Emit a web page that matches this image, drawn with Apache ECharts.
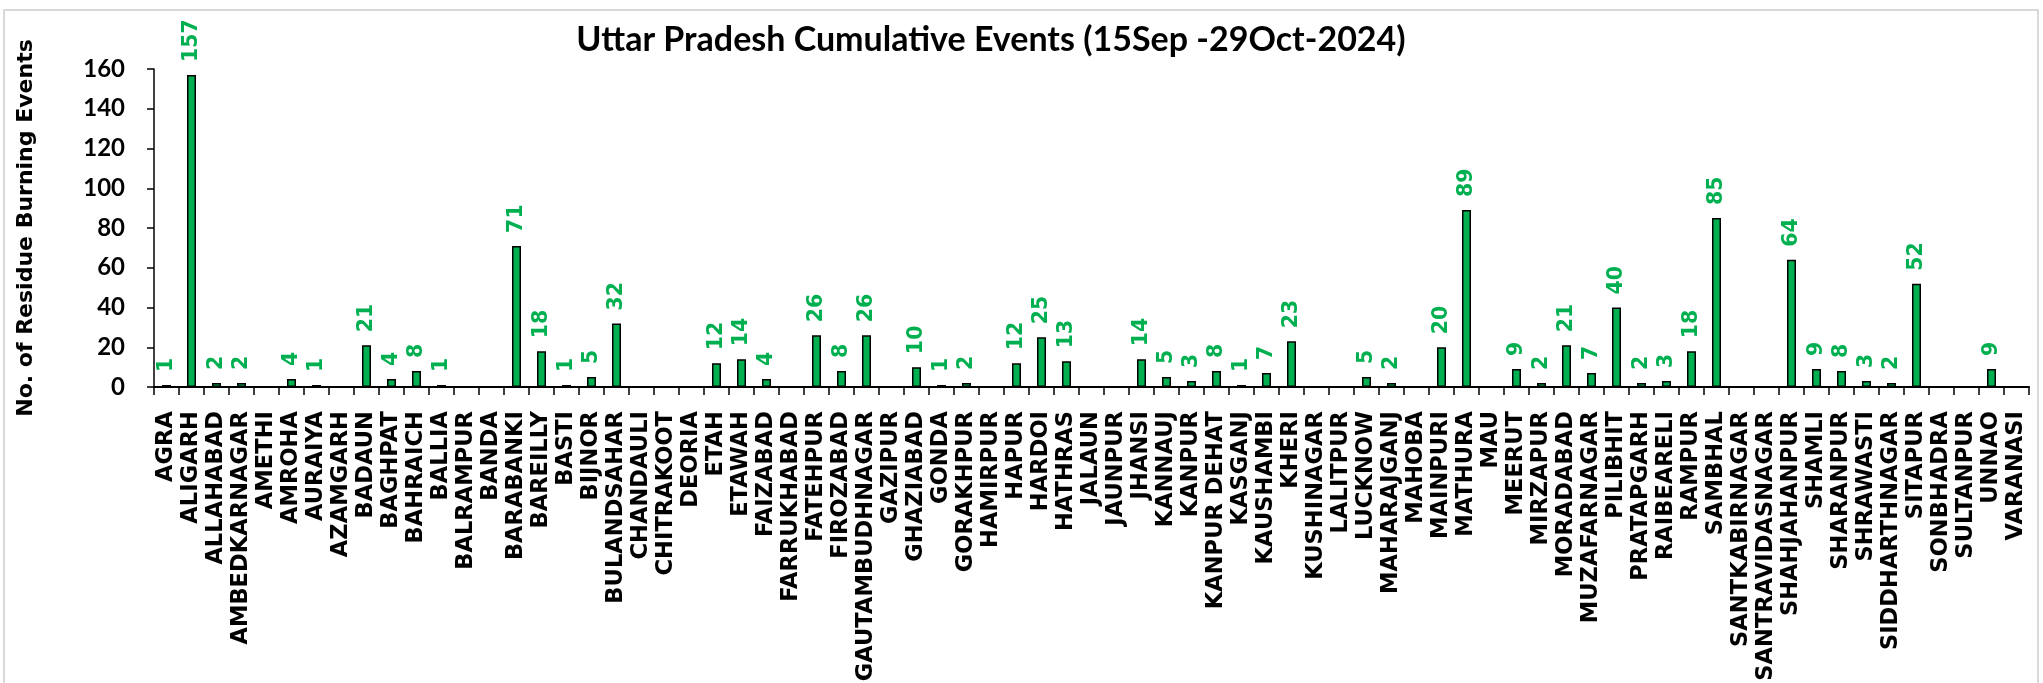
<!DOCTYPE html>
<html>
<head>
<meta charset="utf-8">
<script src="https://cdn.jsdelivr.net/npm/echarts@6/dist/echarts.min.js"></script>
<style>
  html, body { margin: 0; padding: 0; background: #fff; }
  #chart { width: 2043px; height: 683px; }
</style>
</head>
<body>
<div id="chart"></div>
<script>
// districts in the order they sit on the x axis
var districts = [
  "AGRA", "ALIGARH", "ALLAHABAD", "AMBEDKARNAGAR", "AMETHI", "AMROHA", "AURAIYA", "AZAMGARH",
  "BADAUN", "BAGHPAT", "BAHRAICH", "BALLIA", "BALRAMPUR", "BANDA", "BARABANKI", "BAREILLY",
  "BASTI", "BIJNOR", "BULANDSAHAR", "CHANDAULI", "CHITRAKOOT", "DEORIA", "ETAH", "ETAWAH",
  "FAIZABAD", "FARRUKHABAD", "FATEHPUR", "FIROZABAD", "GAUTAMBUDHNAGAR", "GAZIPUR", "GHAZIABAD",
  "GONDA", "GORAKHPUR", "HAMIRPUR", "HAPUR", "HARDOI", "HATHRAS", "JALAUN", "JAUNPUR", "JHANSI",
  "KANNAUJ", "KANPUR", "KANPUR DEHAT", "KASGANJ", "KAUSHAMBI", "KHERI", "KUSHINAGAR", "LALITPUR",
  "LUCKNOW", "MAHARAJGANJ", "MAHOBA", "MAINPURI", "MATHURA", "MAU", "MEERUT", "MIRZAPUR",
  "MORADABAD", "MUZAFARNAGAR", "PILIBHIT", "PRATAPGARH", "RAIBEARELI", "RAMPUR", "SAMBHAL",
  "SANTKABIRNAGAR", "SANTRAVIDASNAGAR", "SHAHJAHANPUR", "SHAMLI", "SHARANPUR", "SHRAWASTI",
  "SIDDHARTHNAGAR", "SITAPUR", "SONBHADRA", "SULTANPUR", "UNNAO", "VARANASI"
];

// cumulative residue burning events per district
var events = [
  1, 157, 2, 2, 0, 4, 1, 0,
  21, 4, 8, 1, 0, 0, 71, 18,
  1, 5, 32, 0, 0, 0, 12, 14,
  4, 0, 26, 8, 26, 0, 10,
  1, 2, 0, 12, 25, 13, 0, 0, 14,
  5, 3, 8, 1, 7, 23, 0, 0,
  5, 2, 0, 20, 89, 0, 9, 2,
  21, 7, 40, 2, 3, 18, 85,
  0, 0, 64, 9, 8, 3,
  2, 52, 0, 0, 9, 0
];

var yTicks = [0, 20, 40, 60, 80, 100, 120, 140, 160];

var chartTitle = "Uttar Pradesh Cumulative Events (15Sep -29Oct-2024)";
var yAxisName = "No. of Residue Burning Events";

var green = "#00B050";

// Excel leaves zero bars empty, so do the same
var barData = events.map(function (v) { return v === 0 ? "-" : v; });

var dom = document.getElementById("chart");
var myChart = echarts.init(dom, null, { renderer: "canvas" });

var option = {
  animation: false,
  backgroundColor: "#fff",
  title: {
    text: chartTitle,
    left: 986,
    top: 18,
    textAlign: "center",
    textStyle: {
      fontFamily: "Lato, sans-serif",
      fontWeight: "bold",
      fontSize: 34,
      color: "#000"
    }
  },
  graphic: [
    {
      type: "rect",
      silent: true,
      shape: { x: 4, y: 10, width: 2034, height: 720 },
      style: { fill: "none", stroke: "#d9d9d9", lineWidth: 2 }
    }
  ],
  grid: {
    left: 154,
    right: 14,
    top: 69,
    bottom: 296,
    containLabel: false,
    outerBoundsMode: "none"
  },
  xAxis: {
    type: "category",
    data: districts,
    axisLine: { lineStyle: { color: "#000", width: 2 } },
    axisTick: { show: true, length: 8, lineStyle: { color: "#000", width: 1.5 } },
    axisLabel: {
      interval: 0,
      rotate: 90,
      margin: 24,
      color: "#000",
      fontFamily: "'DejaVu Sans', sans-serif",
      fontWeight: "bold",
      fontSize: 22.6
    }
  },
  yAxis: {
    type: "value",
    min: yTicks[0],
    max: yTicks[yTicks.length - 1],
    interval: yTicks[1] - yTicks[0],
    name: yAxisName,
    nameLocation: "middle",
    nameGap: 117,
    nameTextStyle: {
      fontFamily: "'DejaVu Sans', sans-serif",
      fontWeight: "bold",
      fontSize: 22,
      color: "#000"
    },
    axisLine: { show: true, lineStyle: { color: "#000", width: 1.5 } },
    axisTick: { show: true, length: 7, lineStyle: { color: "#000", width: 1.5 } },
    splitLine: { show: false },
    axisLabel: {
      margin: 29,
      color: "#000",
      fontFamily: "Lato, sans-serif",
      fontWeight: "bold",
      fontSize: 24
    }
  },
  series: [
    {
      type: "bar",
      data: barData,
      barWidth: 9,
      itemStyle: { color: green, borderColor: "#000", borderWidth: 1.5 },
      label: {
        show: true,
        position: "top",
        rotate: 90,
        align: "left",
        verticalAlign: "middle",
        distance: 13,
        color: green,
        fontFamily: "'DejaVu Sans', sans-serif",
        fontWeight: "bold",
        fontSize: 20.5
      }
    }
  ]
};

if (option && typeof option === "object") {
  myChart.setOption(option);
}
</script>
</body>
</html>
